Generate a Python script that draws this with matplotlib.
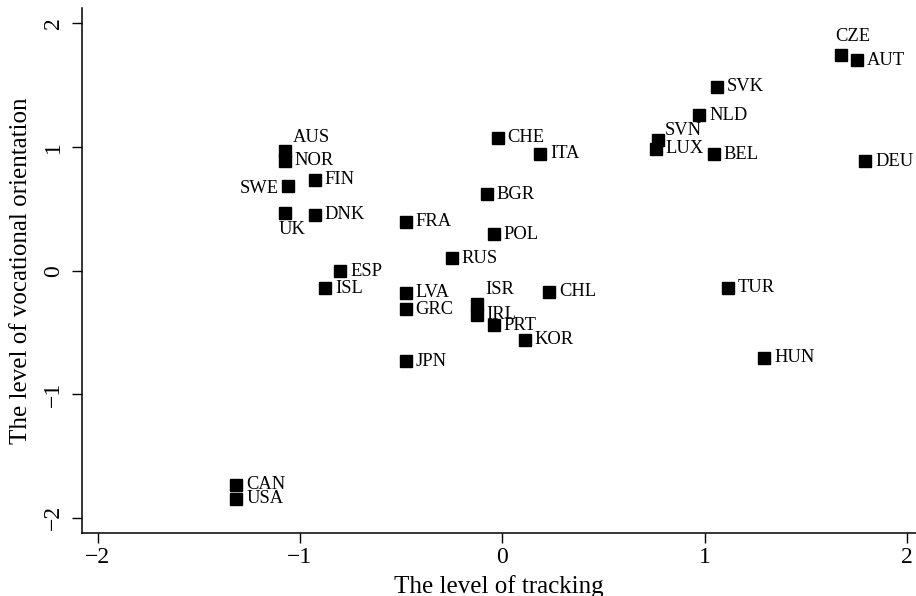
import matplotlib
matplotlib.use("Agg")
import matplotlib.pyplot as plt

# Datos
paises = ["AUS", "NOR", "FIN", "SWE", "UK", "DNK", "FRA", "ESP", "ISL", "LVA",
          "GRC", "JPN", "CHE", "ITA", "BGR", "POL", "RUS", "ISR", "IRL", "PRT",
          "KOR", "CHL", "CZE", "AUT", "SVK", "NLD", "SVN", "LUX", "BEL", "DEU",
          "TUR", "HUN", "CAN", "USA"]
tracking = [-1.076, -1.076, -0.928, -1.058, -1.076, -0.928, -0.476, -0.800, -0.874, -0.476,
            -0.476, -0.475, -0.022, 0.188, -0.075, -0.042, -0.248, -0.127, -0.127, -0.042,
            0.110, 0.233, 1.671, 1.751, 1.060, 0.974, 0.768, 0.757, 1.045, 1.793,
            1.114, 1.295, -1.314, -1.314]
vocacional = [0.968, 0.888, 0.734, 0.688, 0.464, 0.452, 0.394, -0.004, -0.144, -0.178,
              -0.314, -0.732, 1.075, 0.946, 0.617, 0.293, 0.099, -0.273, -0.357, -0.443,
              -0.557, -0.171, 1.741, 1.701, 1.488, 1.256, 1.057, 0.986, 0.943, 0.884,
              -0.138, -0.705, -1.730, -1.846]

# Posición de las etiquetas (desplazamiento en puntos, alineación)
pos_etiqueta = {
    "AUS": ((6, 10), "left"),
    "SWE": ((-7, -2), "right"),
    "UK": ((-4, -11.5), "left"),
    "ISR": ((6, 11), "left"),
    "CZE": ((-4, 14), "left"),
    "SVN": ((5, 6.5), "left"),
}

plt.rcParams["font.family"] = ["Liberation Serif", "DejaVu Serif"]

fig = plt.figure(figsize=(9.16, 5.96), dpi=100)
ax = fig.add_axes([0.0895, 0.1057, 0.9105, 0.8809])

ax.plot(tracking, vocacional, "s", color="black", markersize=8.8, linestyle="none")

for p, x, y in zip(paises, tracking, vocacional):
    off, ha = pos_etiqueta.get(p, ((7, 0), "left"))
    ax.annotate(p, (x, y), xytext=off, textcoords="offset points",
                ha=ha, va="center", fontsize=13.3)

ax.set_xlim(-2.077, 2.044)
ax.set_ylim(-2.122, 2.125)
ax.set_xticks([-2, -1, 0, 1, 2])
ax.set_yticks([-2, -1, 0, 1, 2])

for lado in ["top", "right"]:
    ax.spines[lado].set_visible(False)
for lado in ["left", "bottom"]:
    ax.spines[lado].set_linewidth(1.1)

ax.tick_params(axis="both", direction="out", length=7, width=1, labelsize=17)
ax.tick_params(axis="x", pad=3)
ax.tick_params(axis="y", pad=6)
for t in ax.get_yticklabels():
    t.set_rotation(90)
    t.set_va("center")

ax.set_xlabel("The level of tracking", fontsize=18, labelpad=5)
ax.set_ylabel("The level of vocational orientation", fontsize=18, labelpad=8)

fig.savefig("out.png", dpi=100)
